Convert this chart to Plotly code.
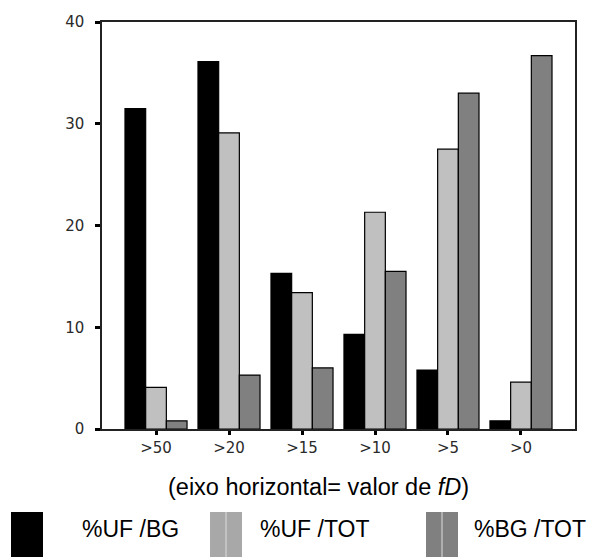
import plotly.graph_objects as go

categories = [">50", ">20", ">15", ">10", ">5", ">0"]
uf_bg = [31.5, 36.1, 15.3, 9.3, 5.8, 0.8]
uf_tot = [4.1, 29.1, 13.4, 21.3, 27.5, 4.6]
bg_tot = [0.8, 5.3, 6.0, 15.5, 33.0, 36.7]
series_names = ["%UF /BG", "%UF /TOT", "%BG /TOT"]
bar_colors = ["#000000", "#c0c0c0", "#808080"]
legend_colors = ["#000000", "#a8a8a8", "#808080"]
y_ticks = [0, 10, 20, 30, 40]

W, H = 592, 557
L, R, T, B = 102, 17, 22, 128
PW, PH = W - L - R, H - T - B


def xp(px):
    return (px - L) / PW


def yp(py):
    return (H - B - py) / PH


fig = go.Figure()
for name, vals, col in zip(series_names, [uf_bg, uf_tot, bg_tot], bar_colors):
    fig.add_trace(go.Bar(
        x=list(range(len(categories))), y=vals, name=name,
        marker=dict(color=col, line=dict(color="#000000", width=1.2)),
        showlegend=False,
    ))

tick_font = dict(family="DejaVu Sans", size=15, color="#2a2a2a")
fig.update_layout(
    width=W, height=H,
    margin=dict(l=L, r=R, t=T, b=B, pad=0),
    paper_bgcolor="white", plot_bgcolor="white",
    barmode="group", bargap=0.15, bargroupgap=0,
    xaxis=dict(
        range=[-0.74, len(categories) - 1 + 0.74],
        tickmode="array", tickvals=list(range(len(categories))), ticktext=categories,
        ticks="outside", ticklen=4, tickwidth=3, tickcolor="#000",
        showline=True, linecolor="#222", linewidth=1.5, mirror=True,
        showgrid=False, zeroline=False, tickfont=tick_font,
    ),
    yaxis=dict(
        range=[0, 40], tickmode="array", tickvals=y_ticks,
        ticks="outside", ticklen=5, tickwidth=3, tickcolor="#000",
        ticklabelstandoff=8,
        showline=True, linecolor="#222", linewidth=1.5, mirror=True,
        showgrid=False, zeroline=False, tickfont=tick_font,
    ),
)

# Caption below the axis
fig.add_annotation(
    x=xp(318), y=yp(487), xref="paper", yref="paper",
    text="(eixo horizontal= valor de <i>fD</i>)", showarrow=False,
    font=dict(family="Liberation Sans, Arial", size=23.5, color="#000"),
    xanchor="center", yanchor="middle",
)

# Custom legend
swatches = [(11, 43, None), (210, 242, 226), (426, 458, 442)]
text_x = [80, 258, 472]
for (x0, x1, mid), col, name, tx in zip(swatches, legend_colors, series_names, text_x):
    fig.add_shape(type="rect", xref="paper", yref="paper",
                  x0=xp(x0), x1=xp(x1), y0=yp(557), y1=yp(512),
                  fillcolor=col, line=dict(width=0), layer="above")
    if mid is not None:
        fig.add_shape(type="line", xref="paper", yref="paper",
                      x0=xp(mid), x1=xp(mid), y0=yp(557), y1=yp(512),
                      line=dict(color="#dddddd", width=1), layer="above")
    fig.add_annotation(
        x=xp(tx), y=yp(529), xref="paper", yref="paper", text=name,
        showarrow=False, xanchor="left", yanchor="middle",
        font=dict(family="Liberation Sans, Arial", size=23, color="#000"),
    )

fig.write_html("out.html")
